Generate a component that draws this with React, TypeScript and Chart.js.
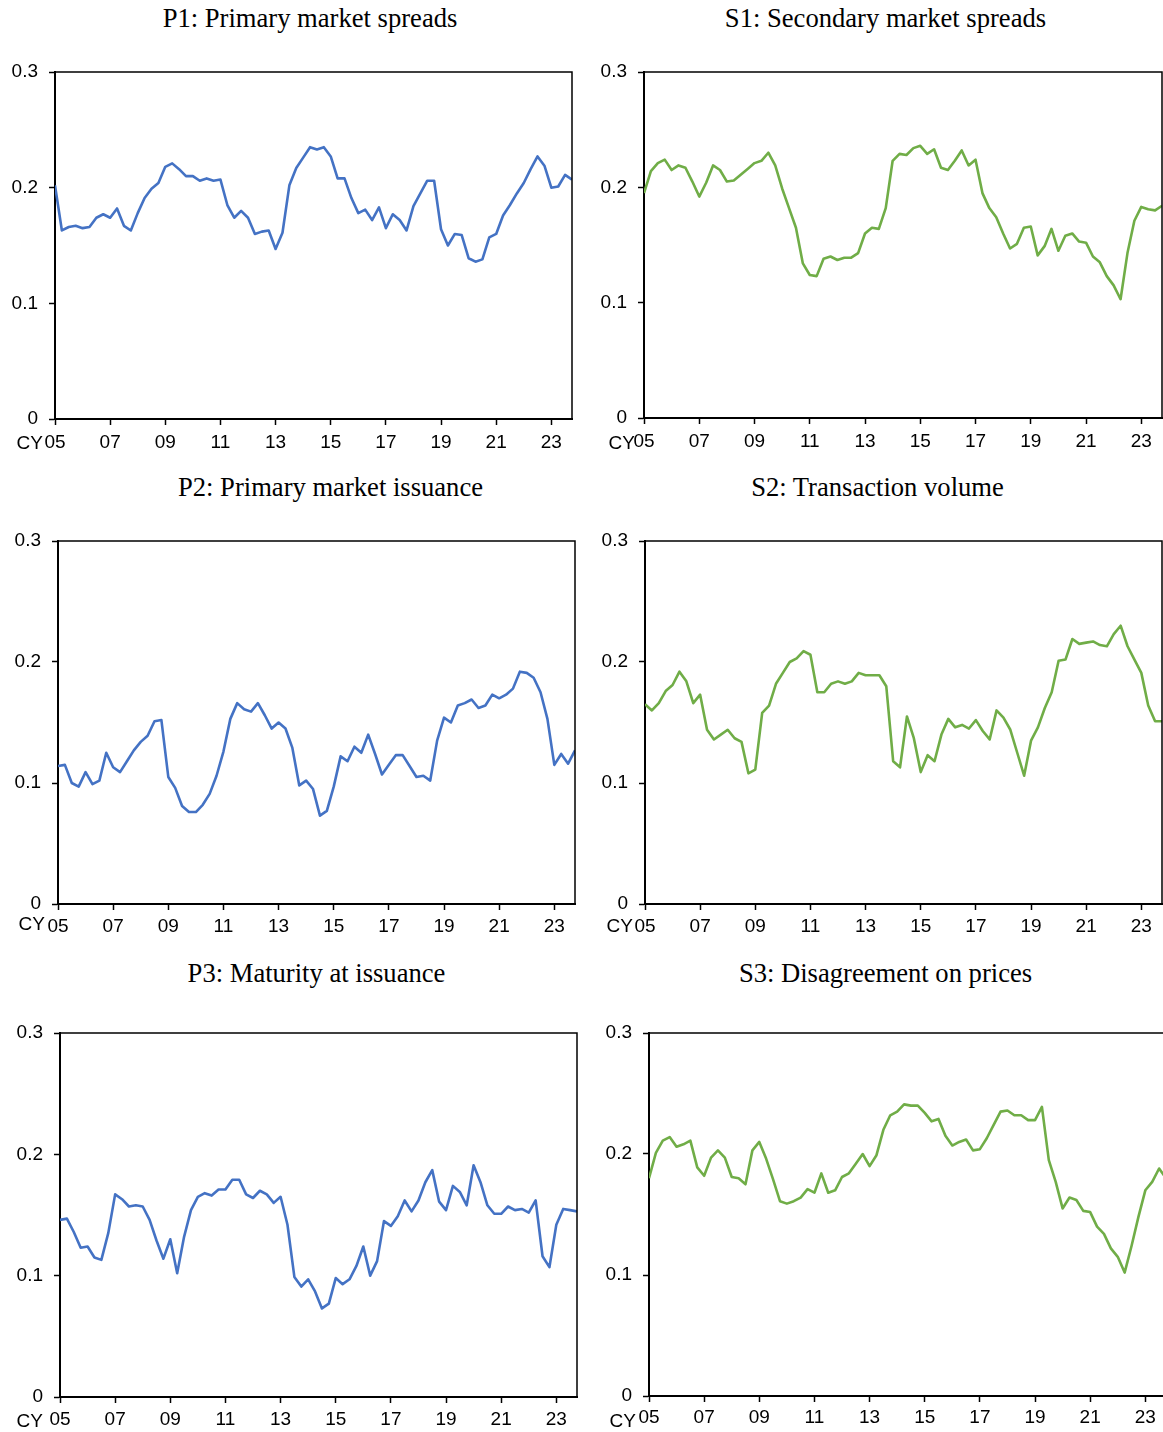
import React, { useEffect, useRef } from 'react';
import { Chart, registerables } from 'chart.js';

Chart.register(...registerables);

// ---------- data ----------
const xTickPositions = [0, 8, 16, 24, 32, 40, 48, 56, 64, 72];
const xTickLabels = ['05', '07', '09', '11', '13', '15', '17', '19', '21', '23'];
const yTickValues = [0, 0.1, 0.2, 0.3];
const yTickLabels = ['0', '0.1', '0.2', '0.3'];

// quarterly, 2005Q1 .. 2023Q4
const p1PrimarySpreads = [
  0.202, 0.163, 0.166, 0.167, 0.165, 0.166, 0.174, 0.177, 0.174, 0.182,
  0.167, 0.163, 0.178, 0.191, 0.199, 0.204, 0.218, 0.221, 0.216, 0.210,
  0.210, 0.206, 0.208, 0.206, 0.207, 0.185, 0.174, 0.180, 0.174, 0.160,
  0.162, 0.163, 0.147, 0.161, 0.202, 0.217, 0.226, 0.235, 0.233, 0.235,
  0.227, 0.208, 0.208, 0.191, 0.178, 0.181, 0.172, 0.183, 0.165, 0.177,
  0.172, 0.163, 0.184, 0.195, 0.206, 0.206, 0.164, 0.150, 0.160, 0.159,
  0.139, 0.136, 0.138, 0.157, 0.160, 0.176, 0.185, 0.195, 0.204, 0.216,
  0.227, 0.219, 0.200, 0.201, 0.211, 0.207,
];
const s1SecondarySpreads = [
  0.195, 0.214, 0.221, 0.224, 0.215, 0.219, 0.217, 0.205, 0.192, 0.204,
  0.219, 0.215, 0.205, 0.206, 0.211, 0.216, 0.221, 0.223, 0.230, 0.219,
  0.199, 0.182, 0.165, 0.134, 0.124, 0.123, 0.138, 0.140, 0.137, 0.139,
  0.139, 0.143, 0.160, 0.165, 0.164, 0.182, 0.223, 0.229, 0.228, 0.234,
  0.236, 0.229, 0.233, 0.217, 0.215, 0.223, 0.232, 0.219, 0.224, 0.195,
  0.182, 0.174, 0.160, 0.147, 0.151, 0.165, 0.166, 0.141, 0.149, 0.164,
  0.145, 0.158, 0.160, 0.153, 0.152, 0.140, 0.135, 0.123, 0.115, 0.103,
  0.143, 0.171, 0.183, 0.181, 0.180, 0.184,
];
const p2PrimaryIssuance = [
  0.114, 0.115, 0.100, 0.097, 0.109, 0.099, 0.102, 0.125, 0.113, 0.109,
  0.118, 0.127, 0.134, 0.139, 0.151, 0.152, 0.105, 0.096, 0.081, 0.076,
  0.076, 0.082, 0.091, 0.106, 0.126, 0.153, 0.166, 0.161, 0.159, 0.166,
  0.156, 0.145, 0.150, 0.145, 0.129, 0.098, 0.102, 0.095, 0.073, 0.077,
  0.097, 0.122, 0.118, 0.130, 0.125, 0.140, 0.124, 0.107, 0.115, 0.123,
  0.123, 0.114, 0.105, 0.106, 0.102, 0.135, 0.154, 0.150, 0.164, 0.166,
  0.169, 0.162, 0.164, 0.173, 0.170, 0.173, 0.178, 0.192, 0.191, 0.187,
  0.175, 0.153, 0.115, 0.124, 0.116, 0.127,
];
const s2TransactionVolume = [
  0.165, 0.160, 0.166, 0.176, 0.181, 0.192, 0.184, 0.166, 0.173, 0.144,
  0.136, 0.140, 0.144, 0.137, 0.134, 0.108, 0.111, 0.158, 0.164, 0.182,
  0.191, 0.200, 0.203, 0.209, 0.206, 0.175, 0.175, 0.182, 0.184, 0.182,
  0.184, 0.191, 0.189, 0.189, 0.189, 0.180, 0.118, 0.113, 0.155, 0.137,
  0.109, 0.123, 0.118, 0.140, 0.153, 0.146, 0.148, 0.145, 0.152, 0.143,
  0.136, 0.160, 0.154, 0.144, 0.125, 0.106, 0.135, 0.146, 0.162, 0.175,
  0.201, 0.202, 0.219, 0.215, 0.216, 0.217, 0.214, 0.213, 0.223, 0.230,
  0.213, 0.202, 0.191, 0.164, 0.151, 0.151,
];
const p3MaturityAtIssuance = [
  0.146, 0.147, 0.136, 0.123, 0.124, 0.115, 0.113, 0.135, 0.167, 0.163,
  0.157, 0.158, 0.157, 0.146, 0.129, 0.114, 0.130, 0.102, 0.132, 0.154,
  0.165, 0.168, 0.166, 0.171, 0.171, 0.179, 0.179, 0.167, 0.164, 0.170,
  0.167, 0.160, 0.165, 0.142, 0.099, 0.091, 0.097, 0.087, 0.073, 0.077,
  0.098, 0.093, 0.097, 0.108, 0.124, 0.100, 0.112, 0.145, 0.141, 0.149,
  0.162, 0.153, 0.162, 0.177, 0.187, 0.161, 0.154, 0.174, 0.169, 0.158,
  0.191, 0.177, 0.158, 0.151, 0.151, 0.157, 0.154, 0.155, 0.152, 0.162,
  0.116, 0.107, 0.142, 0.155, 0.154, 0.153,
];
const s3PriceDisagreement = [
  0.180, 0.201, 0.211, 0.214, 0.206, 0.208, 0.211, 0.189, 0.182, 0.197,
  0.203, 0.197, 0.181, 0.180, 0.175, 0.203, 0.210, 0.196, 0.179, 0.161,
  0.159, 0.161, 0.164, 0.171, 0.168, 0.184, 0.168, 0.170, 0.181, 0.184,
  0.192, 0.200, 0.190, 0.199, 0.220, 0.232, 0.235, 0.241, 0.240, 0.240,
  0.234, 0.227, 0.229, 0.215, 0.207, 0.210, 0.212, 0.203, 0.204, 0.213,
  0.224, 0.235, 0.236, 0.232, 0.232, 0.228, 0.228, 0.239, 0.195, 0.177,
  0.155, 0.164, 0.162, 0.153, 0.152, 0.140, 0.134, 0.122, 0.115, 0.102,
  0.124, 0.148, 0.170, 0.177, 0.188, 0.180,
];

// ---------- layout / style ----------
const BLUE = '#4472C4';
const GREEN = '#70AD47';
const SANS = "'Liberation Sans', Arial, sans-serif";
const SERIF = "'Liberation Serif', 'Times New Roman', serif";

type PanelSpec = {
  title: string;
  values: number[];
  color: string;
  plotLeft: number;
  plotTop: number;
  plotW: number;
  plotH: number;
  titleCx: number;
  titleTop: number;
  cyDx: number;
  cyDy: number;
  xPad: number;
};

const panels: PanelSpec[] = [
  { title: 'P1: Primary market spreads', values: p1PrimarySpreads, color: BLUE, plotLeft: 55, plotTop: 72, plotW: 517, plotH: 347, titleCx: 310, titleTop: 3, cyDx: -12, cyDy: 25, xPad: 6 },
  { title: 'S1: Secondary market spreads', values: s1SecondarySpreads, color: GREEN, plotLeft: 644, plotTop: 72, plotW: 518, plotH: 346, titleCx: 885.5, titleTop: 3, cyDx: -9, cyDy: 26, xPad: 6 },
  { title: 'P2: Primary market issuance', values: p2PrimaryIssuance, color: BLUE, plotLeft: 58, plotTop: 541, plotW: 517, plotH: 363, titleCx: 330.5, titleTop: 472, cyDx: -13, cyDy: 21, xPad: 5 },
  { title: 'S2: Transaction volume', values: s2TransactionVolume, color: GREEN, plotLeft: 645, plotTop: 541, plotW: 517, plotH: 363, titleCx: 877.5, titleTop: 472, cyDx: -12, cyDy: 23, xPad: 5 },
  { title: 'P3: Maturity at issuance', values: p3MaturityAtIssuance, color: BLUE, plotLeft: 60, plotTop: 1033, plotW: 517, plotH: 364, titleCx: 316.5, titleTop: 958, cyDx: -17, cyDy: 25, xPad: 5 },
  { title: 'S3: Disagreement on prices', values: s3PriceDisagreement, color: GREEN, plotLeft: 649, plotTop: 1033, plotW: 517, plotH: 363, titleCx: 885.5, titleTop: 958, cyDx: -13, cyDy: 26, xPad: 4 },
];

const Y_AXIS_W = 55;
const PAD_TOP = 20;
const PAD_RIGHT = 4;
const X_AXIS_H = 45;

function Panel({ spec }: { spec: PanelSpec }) {
  const ref = useRef<HTMLCanvasElement | null>(null);
  const cw = Y_AXIS_W + spec.plotW + PAD_RIGHT;
  const chh = PAD_TOP + spec.plotH + X_AXIS_H;

  useEffect(() => {
    if (!ref.current) return;
    const framePlugin = {
      id: 'frameAndCy',
      afterDraw(chart: any) {
        const { ctx, chartArea: a } = chart;
        ctx.save();
        ctx.strokeStyle = '#000';
        ctx.lineWidth = 1.5;
        ctx.beginPath();
        ctx.moveTo(a.left, a.top);
        ctx.lineTo(a.right, a.top);
        ctx.lineTo(a.right, a.bottom);
        ctx.stroke();
        ctx.font = `19px ${SANS}`;
        ctx.fillStyle = '#000';
        ctx.textAlign = 'right';
        ctx.textBaseline = 'middle';
        ctx.fillText('CY', a.left + spec.cyDx, a.bottom + spec.cyDy);
        ctx.restore();
      },
    };
    const chart = new Chart(ref.current, {
      type: 'line',
      data: {
        datasets: [
          {
            data: spec.values.map((v, i) => ({ x: i, y: v })),
            borderColor: spec.color,
            borderWidth: 2.6,
            pointRadius: 0,
            tension: 0,
            borderJoinStyle: 'round',
            fill: false,
          },
        ],
      },
      options: {
        responsive: false,
        animation: false,
        devicePixelRatio: 1,
        layout: { padding: { top: PAD_TOP, right: PAD_RIGHT, left: 0, bottom: 0 } },
        plugins: { legend: { display: false }, tooltip: { enabled: false }, title: { display: false } },
        scales: {
          x: {
            type: 'linear',
            min: 0,
            max: 75,
            afterBuildTicks: (scale: any) => {
              scale.ticks = xTickPositions.map((v) => ({ value: v }));
            },
            afterFit: (scale: any) => {
              scale.height = X_AXIS_H;
              scale.paddingLeft = 0;
              scale.paddingRight = 0;
            },
            grid: { display: true, drawOnChartArea: false, drawTicks: true, tickLength: 6, tickColor: '#000', tickWidth: 1.5 },
            border: { display: true, color: '#000', width: 2 },
            ticks: {
              autoSkip: false,
              maxRotation: 0,
              padding: spec.xPad,
              color: '#000',
              font: { family: SANS, size: 19 },
              callback: (_v: any, i: number) => xTickLabels[i],
            },
          },
          y: {
            type: 'linear',
            min: 0,
            max: 0.3,
            afterBuildTicks: (scale: any) => {
              scale.ticks = yTickValues.map((v) => ({ value: v }));
            },
            afterFit: (scale: any) => {
              scale.width = Y_AXIS_W;
              scale.paddingTop = 0;
              scale.paddingBottom = 0;
            },
            grid: { display: true, drawOnChartArea: false, drawTicks: true, tickLength: 6, tickColor: '#000', tickWidth: 1.5 },
            border: { display: true, color: '#000', width: 2 },
            ticks: {
              padding: 11,
              color: '#000',
              font: { family: SANS, size: 19 },
              callback: (_v: any, i: number) => yTickLabels[i],
            },
          },
        },
      },
      plugins: [framePlugin],
    } as any);
    return () => chart.destroy();
  }, [spec]);

  return (
    <>
      <div
        style={{
          position: 'absolute',
          left: spec.titleCx - 300,
          top: spec.titleTop,
          width: 600,
          textAlign: 'center',
          fontFamily: SERIF,
          fontSize: 26.6,
          lineHeight: '30px',
          color: '#000',
          whiteSpace: 'nowrap',
        }}
      >
        {spec.title}
      </div>
      <canvas
        ref={ref}
        width={cw}
        height={chh}
        style={{
          position: 'absolute',
          left: spec.plotLeft - Y_AXIS_W,
          top: spec.plotTop - PAD_TOP,
          width: cw,
          height: chh,
        }}
      />
    </>
  );
}

export default function App() {
  return (
    <div
      style={{
        position: 'absolute',
        left: 0,
        top: 0,
        width: 1163,
        height: 1432,
        overflow: 'hidden',
        background: '#fff',
      }}
    >
      {panels.map((p) => (
        <Panel key={p.title} spec={p} />
      ))}
    </div>
  );
}
